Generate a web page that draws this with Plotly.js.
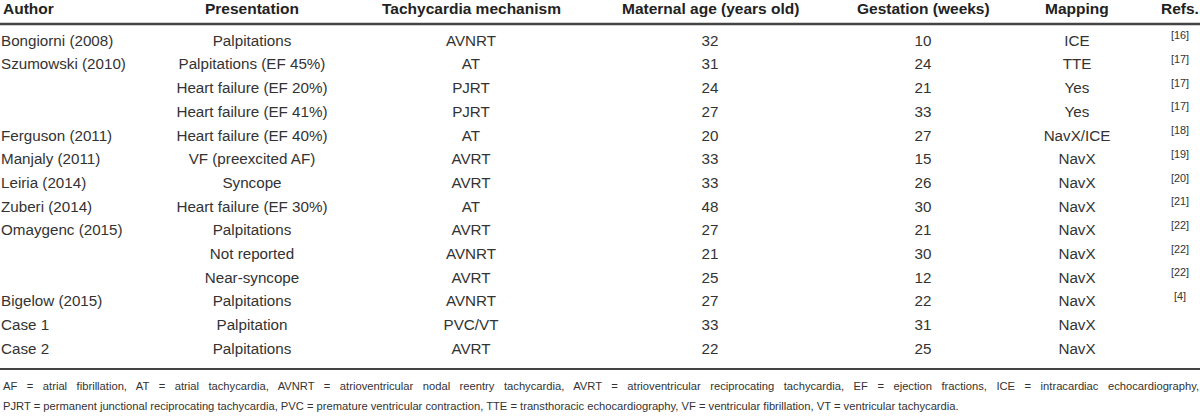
<!DOCTYPE html>
<html>
<head>
<meta charset="utf-8">
<script src="https://cdn.plot.ly/plotly-3.0.1.min.js"></script>
<style>
  html, body { margin: 0; padding: 0; background: #fff; overflow: hidden; }
  /* first footnote line is justified to the full width in the source */
  #table-plot g.annotation[data-index="7"] text { word-spacing: 6.4px; }
</style>
</head>
<body>
<div id="table-plot" style="width:1200px;height:418px;"></div>
<script>
// Pregnancy ablation case series - table values
const headers = ['Author', 'Presentation', 'Tachycardia mechanism', 'Maternal age (years old)', 'Gestation (weeks)', 'Mapping', 'Refs.'];

const authors = ['Bongiorni (2008)', 'Szumowski (2010)', '', '', 'Ferguson (2011)', 'Manjaly (2011)', 'Leiria (2014)',
    'Zuberi (2014)', 'Omaygenc (2015)', '', '', 'Bigelow (2015)', 'Case 1', 'Case 2'];
const presentation = ['Palpitations', 'Palpitations (EF 45%)', 'Heart failure (EF 20%)', 'Heart failure (EF 41%)',
    'Heart failure (EF 40%)', 'VF (preexcited AF)', 'Syncope', 'Heart failure (EF 30%)', 'Palpitations',
    'Not reported', 'Near-syncope', 'Palpitations', 'Palpitation', 'Palpitations'];
const mechanism = ['AVNRT', 'AT', 'PJRT', 'PJRT', 'AT', 'AVRT', 'AVRT', 'AT', 'AVRT', 'AVNRT', 'AVRT', 'AVNRT', 'PVC/VT', 'AVRT'];
const maternalAge = [32, 31, 24, 27, 20, 33, 33, 48, 27, 21, 25, 27, 33, 22];
const gestation = [10, 24, 21, 33, 27, 15, 26, 30, 21, 30, 12, 22, 31, 25];
const mapping = ['ICE', 'TTE', 'Yes', 'Yes', 'NavX/ICE', 'NavX', 'NavX', 'NavX', 'NavX', 'NavX', 'NavX', 'NavX', 'NavX', 'NavX'];
const refs = [16, 17, 17, 17, 18, 19, 20, 21, 22, 22, 22, 4, null, null];

const footnoteLines = [
    'AF = atrial fibrillation, AT = atrial tachycardia, AVNRT = atrioventricular nodal reentry tachycardia, AVRT = atrioventricular reciprocating tachycardia, EF = ejection fractions, ICE = intracardiac echocardiography,',
    'PJRT = permanent junctional reciprocating tachycardia, PVC = premature ventricular contraction, TTE = transthoracic echocardiography, VF = ventricular fibrillation, VT = ventricular tachycardia.'
];

const FONT = '"Liberation Sans", Arial, sans-serif';
const W = 1200, H = 418;
const ROW_TOP = 42, ROW_STEP = 23.7;   // pixel centre of first row, row pitch

// column anchors in pixels (Author is left aligned, the rest centred)
const colX = [1, 252, 471, 710, 923, 1077, 1180];

const py = y => 1 - y / H;
const rowIdx = authors.map((_, i) => i);

function columnTrace(values, i, opts = {}) {
    return {
        type: 'scatter',
        mode: 'text',
        x: values.map(() => colX[i]),
        y: rowIdx,
        text: values.map(v => (v === null ? '' : String(v))),
        textposition: i === 0 ? 'middle right' : 'middle center',
        textfont: { family: FONT, size: opts.size || 15.2, color: '#333' },
        hoverinfo: 'skip',
        cliponaxis: false
    };
}

const refText = refs.map(r => (r === null ? null : `<sup>[${r}]</sup>`));

const traces = [
    columnTrace(authors, 0),
    columnTrace(presentation, 1),
    columnTrace(mechanism, 2),
    columnTrace(maternalAge, 3),
    columnTrace(gestation, 4),
    columnTrace(mapping, 5),
    columnTrace(refText, 6, { size: 15.5 })
];

const layout = {
    width: W,
    height: H,
    margin: { l: 0, r: 0, t: 0, b: 0 },
    paper_bgcolor: 'white',
    plot_bgcolor: 'white',
    showlegend: false,
    xaxis: { range: [0, W], visible: false, fixedrange: true },
    yaxis: {
        range: [(H - ROW_TOP) / ROW_STEP, -ROW_TOP / ROW_STEP],
        visible: false, fixedrange: true
    },
    shapes: [
        { type: 'line', xref: 'paper', yref: 'paper', x0: 0, x1: 1, y0: py(24), y1: py(24),
          line: { color: '#444', width: 2.5 } },
        { type: 'line', xref: 'paper', yref: 'paper', x0: 0, x1: 1, y0: py(369), y1: py(369),
          line: { color: '#444', width: 2 } }
    ],
    annotations: headers.map((h, i) => ({
        text: h,
        xref: 'paper', yref: 'paper',
        x: colX[i] / W, y: py(8.5),
        xanchor: i === 0 ? 'left' : 'center', yanchor: 'middle',
        showarrow: false,
        font: { family: FONT, size: 15.5, color: '#222', weight: 'bold' }
    })).concat(footnoteLines.map((t, i) => ({
        text: t,
        xref: 'paper', yref: 'paper',
        x: 1 / W, y: py(386 + i * 20.3),
        xanchor: 'left', yanchor: 'middle',
        showarrow: false,
        align: 'left',
        font: { family: FONT, size: 11.2, color: '#333' }
    })))
};

Plotly.newPlot('table-plot', traces, layout, { displayModeBar: false, staticPlot: true });
</script>
</body>
</html>
